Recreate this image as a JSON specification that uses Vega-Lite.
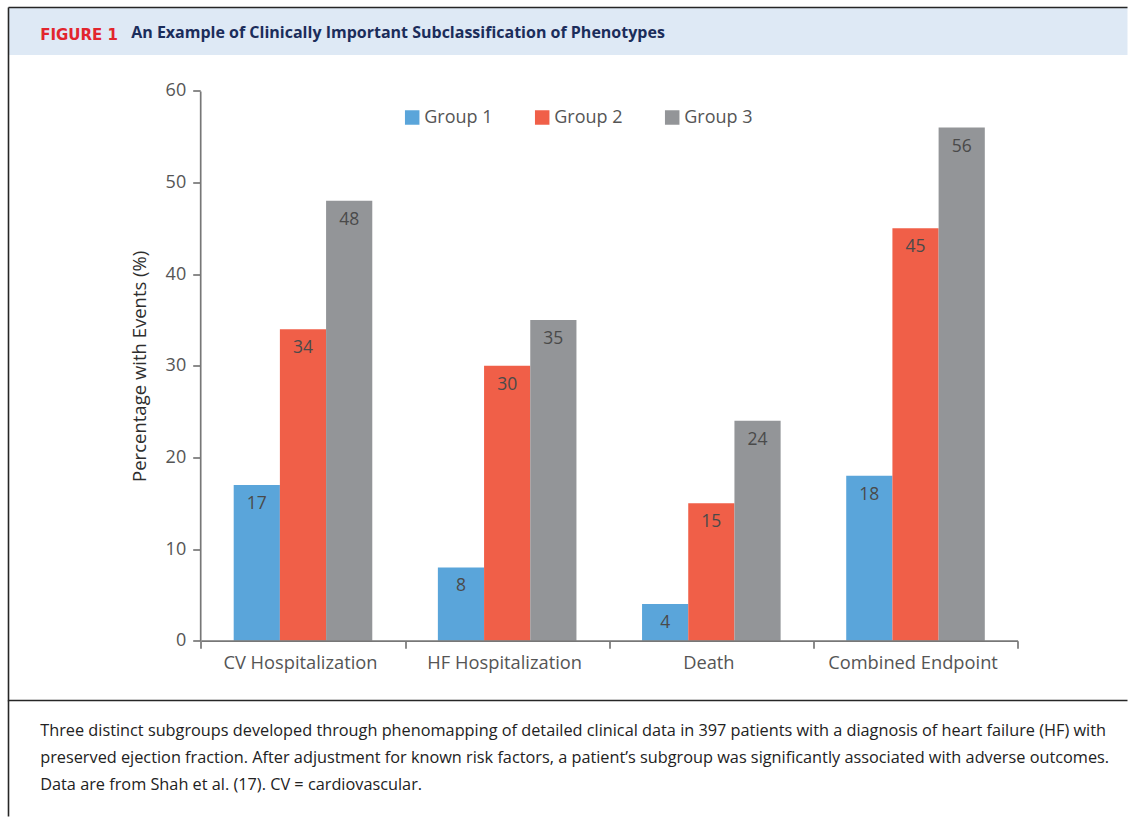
{
  "$schema": "https://vega.github.io/schema/vega-lite/v6.json",
  "padding": {"left": 7.5, "top": 6.5, "right": 0, "bottom": 0},
  "background": "#ffffff",
  "spacing": 0,
  "bounds": "flush",
  "title": {
    "text": "An Example of Clinically Important Subclassification of Phenotypes",
    "anchor": "start",
    "frame": "group",
    "orient": "top",
    "baseline": "middle",
    "offset": -42.5,
    "dx": 122.7,
    "font": "Open Sans",
    "fontSize": 16,
    "fontWeight": "bold",
    "color": "#1b2d5b"
  },
  "datasets": {
    "events": [
      {"Category": "CV Hospitalization", "Group": "Group 1", "value": 17},
      {"Category": "CV Hospitalization", "Group": "Group 2", "value": 34},
      {"Category": "CV Hospitalization", "Group": "Group 3", "value": 48},
      {"Category": "HF Hospitalization", "Group": "Group 1", "value": 8},
      {"Category": "HF Hospitalization", "Group": "Group 2", "value": 30},
      {"Category": "HF Hospitalization", "Group": "Group 3", "value": 35},
      {"Category": "Death", "Group": "Group 1", "value": 4},
      {"Category": "Death", "Group": "Group 2", "value": 15},
      {"Category": "Death", "Group": "Group 3", "value": 24},
      {"Category": "Combined Endpoint", "Group": "Group 1", "value": 18},
      {"Category": "Combined Endpoint", "Group": "Group 2", "value": 45},
      {"Category": "Combined Endpoint", "Group": "Group 3", "value": 56}
    ]
  },
  "vconcat": [
    {
      "width": 1119,
      "height": 693,
      "view": {
        "fill": {
          "gradient": "linear",
          "x1": 0, "y1": 0, "x2": 0, "y2": 1,
          "stops": [
            {"offset": 0, "color": "#dee9f5"},
            {"offset": 0.0688, "color": "#dee9f5"},
            {"offset": 0.0688, "color": "#ffffff"},
            {"offset": 1, "color": "#ffffff"}
          ]
        },
        "stroke": "#262626",
        "strokeWidth": 1.6,
        "strokeDash": [1119, 693, 1812, 0]
      },
      "title": {
        "text": "FIGURE 1",
        "anchor": "start",
        "frame": "group",
        "orient": "top",
        "baseline": "middle",
        "offset": -42,
        "dx": 31.7,
        "font": "DejaVu Sans",
        "fontSize": 15,
        "fontWeight": "bold",
        "color": "#e2252d"
      },
      "data": {"name": "events"},
      "encoding": {
        "x": {
          "field": "Category",
          "type": "nominal",
          "sort": ["CV Hospitalization", "HF Hospitalization", "Death", "Combined Endpoint"],
          "scale": {"range": [192.4, 1009.1], "paddingInner": 0, "paddingOuter": 0},
          "axis": {
            "title": null,
            "orient": "bottom",
            "offset": -59.8,
            "tickBand": "extent",
            "labelAngle": 0,
            "labelFont": "Open Sans",
            "labelFontSize": 18.3,
            "labelColor": "#555555",
            "labelPadding": 6,
            "labelOffset": -3,
            "domainColor": "#777777",
            "domainWidth": 1.7,
            "tickColor": "#777777",
            "tickWidth": 1.7,
            "tickSize": 7.5,
            "grid": false,
            "zindex": 1
          }
        },
        "xOffset": {
          "field": "Group",
          "type": "nominal",
          "scale": {"paddingInner": 0, "paddingOuter": 0.71}
        },
        "y": {
          "field": "value",
          "type": "quantitative",
          "scale": {"domain": [0, 60], "range": [633.2, 83.4], "nice": false, "zero": true},
          "axis": {
            "title": "Percentage with Events (%)",
            "offset": -191.7,
            "values": [0, 10, 20, 30, 40, 50, 60],
            "labelFont": "Open Sans",
            "labelFontSize": 18,
            "labelColor": "#555555",
            "labelPadding": 7,
            "titleFont": "Open Sans",
            "titleFontSize": 18.5,
            "titleFontWeight": "normal",
            "titleColor": "#2e2e2e",
            "titlePadding": 16,
            "domainColor": "#777777",
            "domainWidth": 1.7,
            "tickColor": "#777777",
            "tickWidth": 1.7,
            "tickSize": 7.5,
            "grid": false
          }
        }
      },
      "layer": [
        {
          "mark": {"type": "bar", "stroke": null},
          "encoding": {
            "color": {
              "field": "Group",
              "type": "nominal",
              "scale": {"domain": ["Group 1", "Group 2", "Group 3"], "range": ["#5aa5da", "#f05f48", "#939598"]},
              "legend": {
                "orient": "none",
                "legendX": 394.7,
                "legendY": 101,
                "direction": "horizontal",
                "title": null,
                "padding": 0,
                "symbolType": "square",
                "symbolSize": 210,
                "symbolStrokeWidth": 0,
                "symbolOpacity": 1,
                "labelFont": "Open Sans",
                "labelFontSize": 18,
                "labelColor": "#555555",
                "labelOffset": 3,
                "columnPadding": 40
              }
            }
          }
        },
        {
          "mark": {"type": "text", "baseline": "middle", "dy": 19, "font": "Open Sans", "fontSize": 17.5, "color": "#4a4a4a"},
          "encoding": {
            "text": {"field": "value", "type": "quantitative"}
          }
        }
      ]
    },
    {
      "width": 1119,
      "height": 116,
      "view": {
        "fill": null,
        "stroke": "#262626",
        "strokeWidth": 1.6,
        "strokeDash": [0, 2354, 116, 0]
      },
      "title": {
        "text": [
          "Three distinct subgroups developed through phenomapping of detailed clinical data in 397 patients with a diagnosis of heart failure (HF) with",
          "preserved ejection fraction. After adjustment for known risk factors, a patient’s subgroup was significantly associated with adverse outcomes.",
          "Data are from Shah et al. (17). CV = cardiovascular."
        ],
        "anchor": "start",
        "frame": "group",
        "orient": "top",
        "baseline": "middle",
        "offset": -100.7,
        "dx": 31.7,
        "lineHeight": 27,
        "font": "Open Sans",
        "fontSize": 16.3,
        "fontWeight": "normal",
        "color": "#222222"
      },
      "data": {"values": []},
      "mark": "point",
      "encoding": {}
    }
  ],
  "config": {
    "font": "Open Sans",
    "view": {"stroke": null}
  }
}
